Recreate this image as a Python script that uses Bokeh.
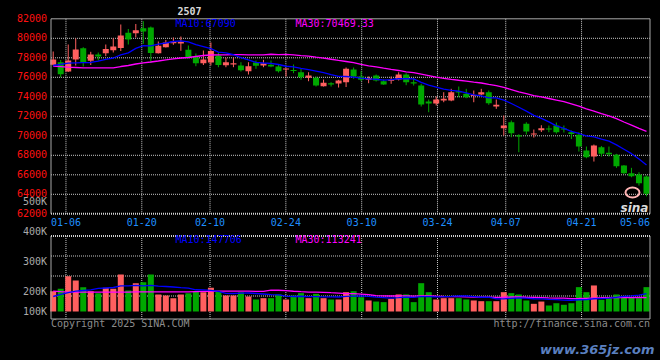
import numpy as np
import pandas as pd
from bokeh.plotting import figure
from bokeh.models import Range1d
from bokeh.core.properties import value
from bokeh.embed import file_html
from bokeh.resources import INLINE

# ---------------- data ----------------
chart_title = "2507"
dates = [
    "12-31",
    "01-02", "01-03", "01-06", "01-07", "01-08", "01-09", "01-10", "01-13", "01-14", "01-15",
    "01-16", "01-17", "01-20", "01-21", "01-22", "01-23", "01-24", "01-27",
    "02-05", "02-06", "02-07", "02-10", "02-11", "02-12", "02-13", "02-14", "02-17", "02-18",
    "02-19", "02-20", "02-21", "02-24", "02-25", "02-26", "02-27", "02-28",
    "03-03", "03-04", "03-05", "03-06", "03-07", "03-10", "03-11", "03-12", "03-13", "03-14",
    "03-17", "03-18", "03-19", "03-20", "03-21", "03-24", "03-25", "03-26", "03-27", "03-28", "03-31",
    "04-01", "04-02", "04-03", "04-07", "04-08", "04-09", "04-10", "04-11", "04-14", "04-15",
    "04-16", "04-17", "04-18", "04-21", "04-22", "04-23", "04-24", "04-25", "04-28", "04-29", "04-30",
    "05-06",
]
open_ = [77281, 77547, 76593, 77824, 78984, 77691, 78338, 78471, 78779, 79005,
         80564, 80523, 81036, 81108, 78471, 79087, 79497, 79466, 78820, 78061,
         77445, 77517, 78235, 77240, 77342, 77209, 76624, 77517, 77209, 77281,
         77106, 76799, 76727, 76521, 75947, 75947, 75085, 75362, 75362, 75496,
         76799, 76080, 75742, 76183, 75598, 75670, 75773, 76286, 75496, 75157,
         73515, 73310, 73618, 73618, 74541, 74305, 74100, 74234, 74470, 73002,
         70776, 71391, 70058, 71227, 70130, 70571, 70745, 71053, 70745, 70365,
         70099, 68488, 67872, 68826, 68252, 68046, 66949, 66159, 66026, 65820]
high = [78645, 77773, 79364, 79979, 79087, 78614, 78543, 79364, 80010, 81416,
        80954, 81467, 81754, 81210, 79671, 79825, 80082, 80184, 79261, 78440,
        78748, 79569, 78543, 77999, 77999, 77547, 77547, 77722, 77794, 77722,
        77312, 76901, 77312, 76870, 76521, 76080, 75773, 75496, 75742, 77004,
        77004, 76624, 76080, 76286, 75773, 76080, 76521, 76419, 75875, 75331,
        73721, 74028, 74470, 74818, 75054, 74818, 74644, 74818, 74644, 73721,
        72079, 71566, 70161, 71391, 70643, 71083, 71053, 71361, 71053, 70540,
        70365, 68898, 69104, 68950, 68898, 68149, 67000, 66713, 66262, 65923]
low = [77209, 76009, 76542, 77209, 77106, 77260, 77722, 78163, 78543, 78697,
       79364, 80082, 79435, 77465, 78440, 79056, 79333, 78717, 77927, 77137,
       77260, 77209, 77034, 77034, 77034, 76593, 76286, 76870, 77034, 77034,
       76491, 76080, 76419, 75742, 75598, 75054, 75054, 75054, 74952, 75003,
       75844, 75598, 75393, 75567, 75229, 75331, 75670, 75188, 75157, 73002,
       72417, 73105, 73443, 73546, 73956, 73854, 73443, 74131, 73177, 72766,
       70027, 69853, 68314, 70130, 69822, 70386, 70365, 70232, 70335, 69668,
       68385, 67697, 67359, 67872, 67872, 66713, 66077, 65748, 64897, 63799]
close = [77824, 76316, 77722, 78851, 77517, 78338, 78132, 78902, 79158, 80287,
         79877, 80831, 80697, 78492, 79230, 79569, 79671, 79641, 78061, 77445,
         77824, 78697, 77260, 77547, 77414, 76727, 77137, 77178, 77445, 77106,
         76624, 76901, 76665, 76009, 76183, 75157, 75434, 75290, 75670, 76870,
         76080, 75742, 75906, 75670, 75260, 75742, 76286, 75496, 75362, 73207,
         73310, 73721, 73792, 74470, 74470, 73956, 74162, 74470, 73341, 73177,
         71053, 70263, 69924, 70437, 70232, 70776, 70643, 70365, 70643, 70181,
         68898, 67800, 69001, 68149, 68108, 66877, 66159, 65851, 65132, 64045]
volume = [169000, 189000, 294000, 258000, 203000, 169000, 153000, 197000, 189000, 308000,
          175000, 236000, 244000, 308000, 142000, 133000, 111000, 142000, 153000, 167000,
          161000, 197000, 169000, 133000, 133000, 161000, 125000, 100000, 111000, 111000,
          142000, 100000, 133000, 153000, 111000, 147000, 111000, 100000, 100000, 161000,
          169000, 119000, 92000, 83000, 78000, 106000, 142000, 142000, 78000, 236000,
          161000, 100000, 111000, 111000, 111000, 100000, 92000, 86000, 86000, 86000,
          161000, 153000, 142000, 92000, 64000, 83000, 50000, 69000, 56000, 69000,
          203000, 161000, 217000, 97000, 111000, 142000, 128000, 119000, 111000, 203000]
# moving-average values before enough history is on the chart
ma10_head = [77209, 77330, 77460, 77480, 77500, 77520, 77670, 77830, 77980]
ma30_head = [77137, 77086, 77034, 77004, 76973, 76973, 76973, 76973, 76973, 77106,
             77209, 77363, 77486, 77568, 77671, 77794, 77896, 77978, 78030, 78132,
             78235, 78287, 78307, 78310, 78320, 78320, 78310, 78300, 78290]
vol_ma10_head = [125000, 142000, 158000, 169000, 175000, 181000, 192000, 196000, 200000]
vol_ma30_head = [169000, 165000, 162000, 161000, 161000, 161000, 161000, 161000, 161000, 162000,
                 162000, 163000, 163000, 163000, 163000, 163000, 163000, 163000, 163000, 165000,
                 167000, 168000, 169000, 169000, 169000, 169000, 169000, 168000, 168000]
price_ticks = [82000, 80000, 78000, 76000, 74000, 72000, 70000, 68000, 66000, 64000, 62000]
date_ticks = ["01-06", "01-20", "02-10", "02-24", "03-10", "03-24", "04-07", "04-21", "05-06"]
vol_ticks = [500000, 400000, 300000, 200000, 100000]
vol_tick_labels = ["500K", "400K", "300K", "200K", "100K"]
price_ma_labels = ["MA10:67090", "MA30:70469.33"]
vol_ma_labels = ["MA10:147706", "MA30:113241"]
copyright_text = "Copyright 2025 SINA.COM"
url_text = "http://finance.sina.com.cn"
watermark_text = "www.365jz.com"
logo_text = "sina"

# ---------------- derived series ----------------
n = len(close)
idx = np.arange(n)
close_s = pd.Series(close, dtype=float)
vol_s = pd.Series(volume, dtype=float)


def moving(series, win, head):
    out = series.rolling(win).mean().to_numpy()
    out[:win - 1] = head
    return out


ma10 = moving(close_s, 10, ma10_head)
ma30 = moving(close_s, 30, ma30_head)
vma10 = moving(vol_s, 10, vol_ma10_head)
vma30 = moving(vol_s, 30, vol_ma30_head)

UP, DOWN = "#ff5f5f", "#00a800"
is_up = [c >= o for o, c in zip(open_, close)]
colors = [UP if u else DOWN for u in is_up]
body_top, body_bot = [], []
for o, c in zip(open_, close):
    t, b = max(o, c), min(o, c)
    if t - b < 110:
        m = (t + b) / 2
        t, b = m + 55, m - 55
    body_top.append(t)
    body_bot.append(b)

# ---------------- layout (page pixels; the page has no margin) ----------------
X_MIN, X_MAX, Y_MIN, Y_MAX = 0, 660, 0, 360
W, H = X_MAX - X_MIN, Y_MAX - Y_MIN
LEFT, RIGHT = 50.5, 649.5
MAIN_TOP, MAIN_BOT = 18.3, 213.3
VOL_TOP, VOL_BOT = 235.5, 318.5
C0_PX, C_STEP = 52.7, 7.51
G0_PX, G_STEP, G_FIRST = 50.3, 599 / 79, 1
VOL_BASE_PX, VOL_PX_PER = 311.0, 12 / 100000
VAX_REF_V, VAX_REF_PX, VAX_PX_PER = 200000, 290.7, 30 / 100000
VAX_FLOOR_PX = 310.7

p_top, p_bot = max(price_ticks), min(price_ticks)


def price_at(ypx):
    return p_top - (ypx - MAIN_TOP) * (p_top - p_bot) / (MAIN_BOT - MAIN_TOP)


def vax_at(ypx):
    return VAX_REF_V + (VAX_REF_PX - ypx) / VAX_PX_PER


p = figure(width=W, height=H, output_backend="svg", toolbar_location=None,
           x_axis_location=None, y_axis_location=None, min_border=0,
           x_range=Range1d((X_MIN - C0_PX) / C_STEP, (X_MAX - C0_PX) / C_STEP),
           y_range=Range1d(price_at(Y_MAX), price_at(Y_MIN)),
           background_fill_color="#000000", border_fill_color="#000000",
           outline_line_color=None)
p.grid.visible = False
p.extra_x_ranges = {
    "grid": Range1d((X_MIN - G0_PX) / G_STEP, (X_MAX - G0_PX) / G_STEP),
    "px": Range1d(X_MIN, X_MAX),
}
p.extra_y_ranges = {
    "vol": Range1d((VOL_BASE_PX - Y_MAX) / VOL_PX_PER, (VOL_BASE_PX - Y_MIN) / VOL_PX_PER),
    "vax": Range1d(vax_at(Y_MAX), vax_at(Y_MIN)),
    "px": Range1d(Y_MAX, Y_MIN),
}

GRID_C = "#c8c8c8"
BORDER_C = "#a8a8a8"
FONT = value("DejaVu Sans Mono")

# ---- grid lines ----
inner_prices = [t for t in price_ticks if p_bot < t < p_top]
p.segment(x0=[LEFT] * len(inner_prices), x1=[RIGHT] * len(inner_prices),
          y0=inner_prices, y1=inner_prices, x_range_name="px",
          line_color=GRID_C, line_width=1, line_dash="1 1")
grid_k = [dates.index(d) - G_FIRST for d in date_ticks]
grid_px = [G0_PX + G_STEP * k for k in grid_k]
gk = [k for k, px in zip(grid_k, grid_px) if px < RIGHT - 10]
p.segment(x0=gk, x1=gk, y0=[p_bot] * len(gk), y1=[p_top] * len(gk),
          x_range_name="grid", line_color=GRID_C, line_width=1, line_dash="1 1")
p.segment(x0=gk, x1=gk, y0=[VOL_TOP] * len(gk), y1=[VOL_BOT] * len(gk),
          x_range_name="grid", y_range_name="px",
          line_color=GRID_C, line_width=1, line_dash="1 1")
vol_grid_y = [VOL_TOP + 20 * j for j in (1, 2, 3)]
p.segment(x0=[LEFT] * 3, x1=[RIGHT] * 3, y0=vol_grid_y, y1=vol_grid_y,
          x_range_name="px", y_range_name="px",
          line_color=GRID_C, line_width=1, line_dash="1 1")

# ---- volume ----
p.vbar(x=idx, width=0.8, top=volume, bottom=0, y_range_name="vol",
       fill_color=colors, line_color=None)
p.line(idx, vma30, y_range_name="vol", line_color="#ff00ff", line_width=1.3)
p.line(idx, vma10, y_range_name="vol", line_color="#0000ff", line_width=1.3)

# ---- candles ----
p.segment(x0=idx, x1=idx, y0=low, y1=high, line_color=colors, line_width=1)
p.vbar(x=idx, width=0.8, top=body_top, bottom=body_bot, fill_color=colors, line_color=None)
p.line(idx, ma30, line_color="#ff00ff", line_width=1.3)
p.line(idx, ma10, line_color="#0000ff", line_width=1.3)

# ---- borders ----
p.segment(x0=[LEFT, LEFT, RIGHT], x1=[RIGHT, LEFT, RIGHT],
          y0=[MAIN_TOP, MAIN_TOP, MAIN_TOP], y1=[MAIN_TOP, MAIN_BOT, MAIN_BOT],
          x_range_name="px", y_range_name="px", line_color=BORDER_C, line_width=1)
p.segment(x0=[LEFT, LEFT, RIGHT], x1=[RIGHT, LEFT, RIGHT],
          y0=[VOL_BOT, VOL_TOP, VOL_TOP], y1=[VOL_BOT, VOL_BOT, VOL_BOT],
          x_range_name="px", y_range_name="px", line_color=BORDER_C, line_width=1)
p.segment(x0=[LEFT, LEFT], x1=[RIGHT, RIGHT], y0=[MAIN_BOT, VOL_TOP], y1=[MAIN_BOT, VOL_TOP],
          x_range_name="px", y_range_name="px", line_color="#d0d0d0", line_width=2,
          line_dash="1 1")

# ---- logo ----
p.ellipse(x=[632], y=[192], width=14, height=10, x_range_name="px", y_range_name="px",
          fill_color=None, line_color="#ffb4b4", line_width=2)
p.text(x=[620], y=[207], text=[logo_text], x_range_name="px", y_range_name="px",
       text_font=value("DejaVu Sans"), text_font_style="bold italic", text_font_size="12px",
       text_color="#dcdcdc", text_align="left", text_baseline="alphabetic")

# ---- texts ----
p.text(x=[LEFT - 4] * len(price_ticks), y=price_ticks, text=[f"{t}" for t in price_ticks],
       x_range_name="px", text_font=FONT, text_font_size="10px", text_color="#ff1010",
       text_align="right", text_baseline="middle", y_offset=-1)

vax_floor = vax_at(VAX_FLOOR_PX)
vax_y = [max(v, vax_floor) for v in vol_ticks]
p.text(x=[LEFT - 4] * len(vol_ticks), y=vax_y, text=vol_tick_labels,
       x_range_name="px", y_range_name="vax", text_font=FONT, text_font_size="10px",
       text_color="#aaaaaa", text_align="right", text_baseline="middle")

HALF_LABEL = 15
label_px = [min(px, RIGHT - HALF_LABEL) for px in grid_px]
p.text(x=label_px, y=[221.2] * len(date_ticks), text=date_ticks,
       x_range_name="px", y_range_name="px", text_font=FONT, text_font_size="10px",
       text_color="#1e8fff", text_align="center", text_baseline="middle")

p.text(x=[175, 295], y=[23.3, 23.3], text=price_ma_labels, x_range_name="px", y_range_name="px",
       text_font=FONT, text_font_size="10px", text_color=["#0000ff", "#ff00ff"],
       text_align="left", text_baseline="middle")
p.text(x=[175, 295], y=[239.0, 239.0], text=vol_ma_labels, x_range_name="px", y_range_name="px",
       text_font=FONT, text_font_size="10px", text_color=["#0000ff", "#ff00ff"],
       text_align="left", text_baseline="middle")

p.text(x=[LEFT], y=[323], text=[copyright_text], x_range_name="px", y_range_name="px",
       text_font=FONT, text_font_size="10px", text_color="#8c8c8c",
       text_align="left", text_baseline="middle")
p.text(x=[RIGHT], y=[323], text=[url_text], x_range_name="px", y_range_name="px",
       text_font=FONT, text_font_size="10px", text_color="#8c8c8c",
       text_align="right", text_baseline="middle")
p.text(x=[177], y=[10], text=[chart_title], x_range_name="px", y_range_name="px",
       text_font=FONT, text_font_style="bold", text_font_size="10px", text_color="#d8d8d8",
       text_align="left", text_baseline="middle")
p.text(x=[654], y=[349], text=[watermark_text], x_range_name="px", y_range_name="px",
       text_font=value("DejaVu Sans"), text_font_style="bold italic", text_font_size="13px",
       text_color="#5a7fbf", text_align="right", text_baseline="alphabetic")

TEMPLATE = """
{% block postamble %}<style>html, body { background: #000000; }</style>{% endblock %}
"""
open("out.html", "w").write(file_html(p, INLINE, title="LC2507", template=TEMPLATE))
